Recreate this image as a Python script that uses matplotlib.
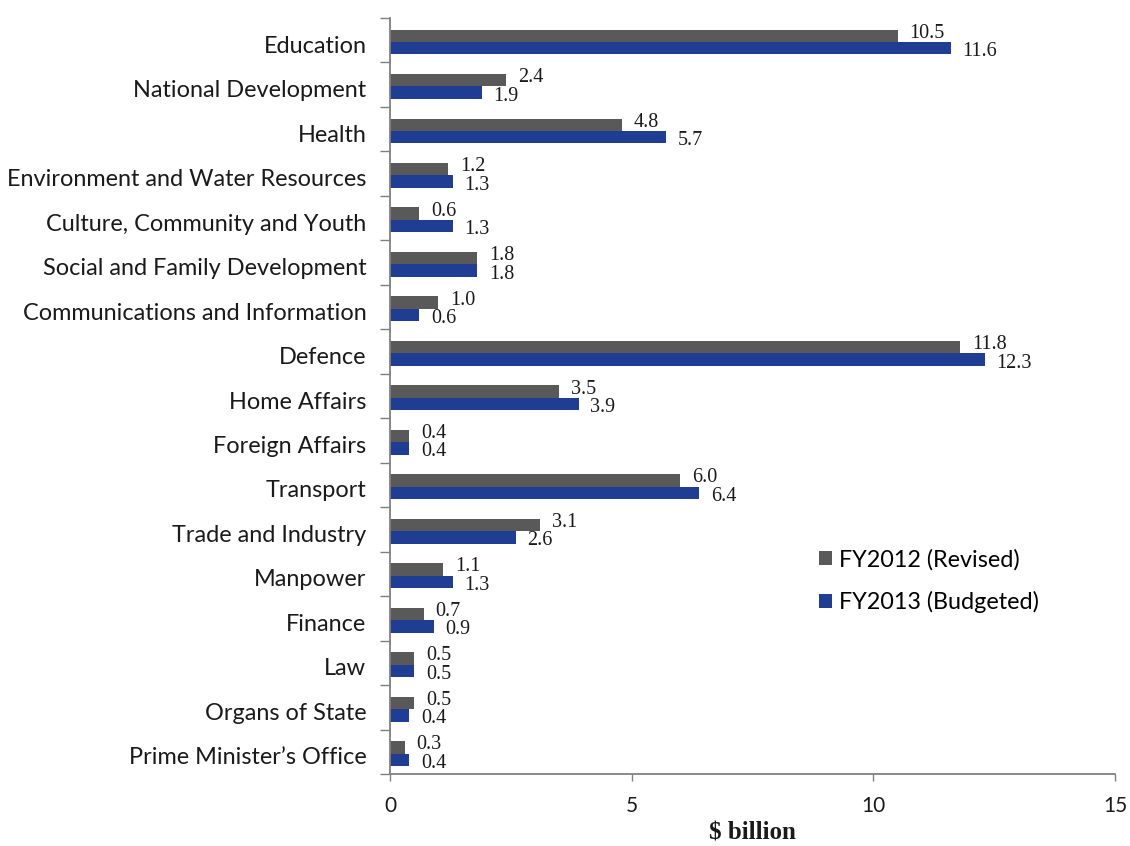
import matplotlib
matplotlib.use("Agg")
import matplotlib.pyplot as plt
import matplotlib.transforms as mtransforms
import numpy as np

categories = [
    "Education", "National Development", "Health",
    "Environment and Water Resources", "Culture, Community and Youth",
    "Social and Family Development", "Communications and Information",
    "Defence", "Home Affairs", "Foreign Affairs", "Transport",
    "Trade and Industry", "Manpower", "Finance", "Law",
    "Organs of State", "Prime Minister\u2019s Office",
]
fy2012 = [10.5, 2.4, 4.8, 1.2, 0.6, 1.8, 1.0, 11.8, 3.5, 0.4, 6.0, 3.1, 1.1, 0.7, 0.5, 0.5, 0.3]
fy2013 = [11.6, 1.9, 5.7, 1.3, 1.3, 1.8, 0.6, 12.3, 3.9, 0.4, 6.4, 2.6, 1.3, 0.9, 0.5, 0.4, 0.4]
x_ticks = [0, 5, 10, 15]

gray = "#595959"
blue = "#1f3e93"
spine = "#808080"
text_c = "#1a1a1a"
sans = "Lato"
serif = "Liberation Serif"

fig = plt.figure(figsize=(11.3, 8.46), dpi=100)
ax = fig.add_axes([390 / 1130, 1 - 774 / 846, 725 / 1130, 756 / 846])

n = len(categories)
y = np.arange(n) + 0.04
h = 0.28
ax.barh(y - h / 2, fy2012, height=h, color=gray, label="FY2012 (Revised)")
ax.barh(y + h / 2, fy2013, height=h, color=blue, label="FY2013 (Budgeted)")

# value labels just past the bar ends
for i in range(n):
    ax.annotate(f"{fy2012[i]:.1f}", (fy2012[i], y[i] - h / 2), xytext=(8.5, 1.8),
                textcoords="offset points", va="center", ha="left",
                fontsize=14.5, family=serif, color=text_c)
    ax.annotate(f"{fy2013[i]:.1f}", (fy2013[i], y[i] + h / 2), xytext=(8.5, -2.5),
                textcoords="offset points", va="center", ha="left",
                fontsize=14.5, family=serif, color=text_c)

ax.set_xlim(0, 15)
ax.set_ylim(n - 0.5, -0.5)
ax.set_xticks(x_ticks)
ax.set_xticklabels([str(t) for t in x_ticks], fontsize=15, family=sans, color=text_c)
ax.tick_params(axis="x", length=5, width=1, color=spine, pad=11)

# boundary ticks on y, labels at centres
ax.set_yticks(np.arange(n + 1) - 0.5)
ax.set_yticklabels([])
ax.set_yticks(np.arange(n), minor=True)
ax.set_yticklabels(categories, minor=True, fontsize=16.9, family=sans, color=text_c)
ax.tick_params(axis="y", which="major", length=7, width=1, color=spine)
ax.tick_params(axis="y", which="minor", length=0, pad=17)
shift = mtransforms.ScaledTranslation(0, -4 / 100, fig.dpi_scale_trans)
for lab in ax.get_yticklabels(minor=True):
    lab.set_transform(lab.get_transform() + shift)

for s in ["top", "right"]:
    ax.spines[s].set_visible(False)
for s in ["left", "bottom"]:
    ax.spines[s].set_color(spine)
    ax.spines[s].set_linewidth(1.3)

ax.set_xlabel("\\$ billion", fontsize=18, fontweight="bold", family=serif,
              color=text_c, labelpad=4)

ax.legend(loc="upper left", bbox_to_anchor=(0.592, 0.298), frameon=False,
          borderaxespad=0, borderpad=0, handlelength=0.55, handleheight=0.55,
          handletextpad=0.3, labelspacing=0.9,
          prop={"family": sans, "size": 16.8})

fig.savefig("out.png", dpi=100)
